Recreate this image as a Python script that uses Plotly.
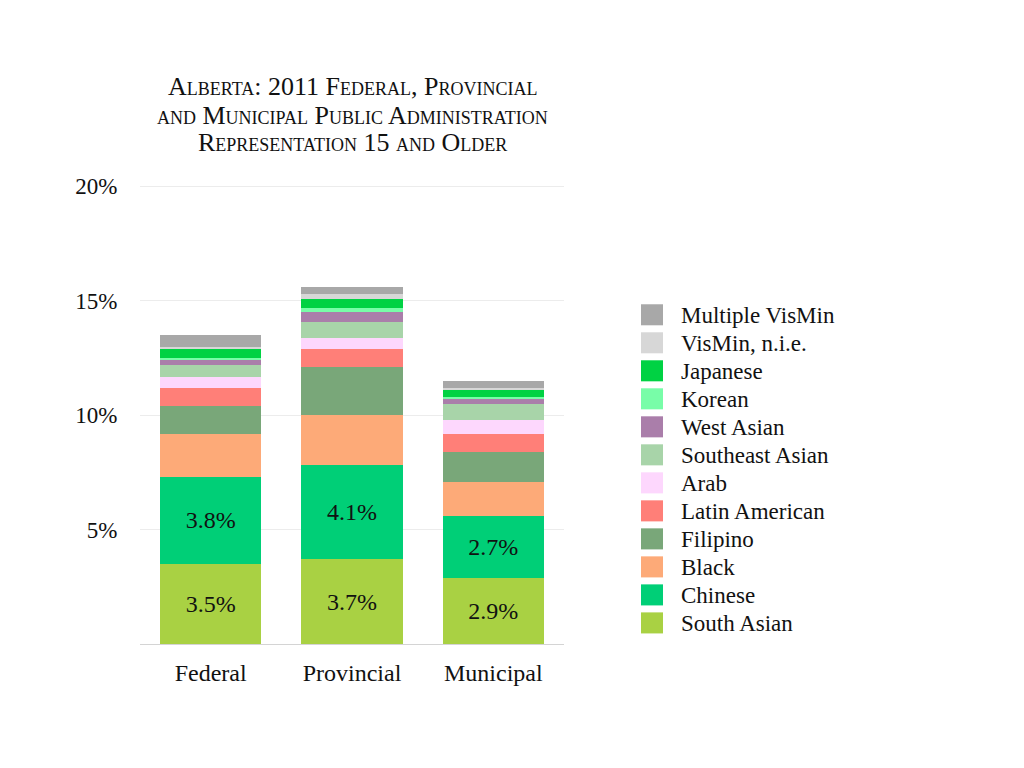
import plotly.graph_objects as go

# ---------------- data ----------------
categories = ["Federal", "Provincial", "Municipal"]

groups = ["South Asian", "Chinese", "Black", "Filipino", "Latin American", "Arab",
          "Southeast Asian", "West Asian", "Korean", "Japanese", "VisMin, n.i.e.",
          "Multiple VisMin"]

south_asian = [3.5, 3.7, 2.9]
chinese = [3.8, 4.1, 2.7]
black = [1.88, 2.20, 1.47]
filipino = [1.22, 2.10, 1.31]
latin_american = [0.79, 0.78, 0.79]
arab = [0.48, 0.48, 0.61]
southeast_asian = [0.52, 0.70, 0.70]
west_asian = [0.22, 0.44, 0.22]
korean = [0.09, 0.17, 0.09]
japanese = [0.39, 0.40, 0.30]
vismin_nie = [0.09, 0.21, 0.09]
multiple_vismin = [0.52, 0.31, 0.30]

series = [south_asian, chinese, black, filipino, latin_american, arab,
          southeast_asian, west_asian, korean, japanese, vismin_nie, multiple_vismin]

colors = ["#A9D143", "#00CF77", "#FDAA78", "#79A779", "#FF7F78", "#FDD7FD",
          "#A8D4A9", "#AA7EAA", "#78FDA8", "#00D243", "#D7D7D7", "#A8A8A8"]

labelled_groups = ["South Asian", "Chinese"]

tick_values = [5, 10, 15, 20]
tick_labels = ["5%", "10%", "15%", "20%"]

title_lines = ["Alberta: 2011 Federal, Provincial",
               "and Municipal Public Administration",
               "Representation 15 and Older"]

# ---------------- layout constants (pixels) ----------------
W, H = 1024, 768
PL, PR, PT, PB = 140, 564, 186, 644
FONT = "Liberation Serif"
INK = "#111111"


def px_x(x):
    return (x - PL) / (PR - PL)


def px_y(y):
    return (PB - y) / (PB - PT)


fig = go.Figure()
for name, vals, col in zip(groups, series, colors):
    show_text = name in labelled_groups
    fig.add_trace(go.Bar(
        x=categories, y=vals, name=name,
        marker=dict(color=col, line=dict(width=0)),
        text=[f"{v:.1f}%" for v in vals] if show_text else None,
        textposition="inside" if show_text else "none",
        insidetextanchor="middle",
        textangle=0,
        textfont=dict(family=FONT, size=24, color=INK),
        showlegend=False,
        hoverinfo="x+y+name",
    ))

# manual legend (large swatches)
shapes = []
annotations = []
leg_top_center = 315.5
leg_step = 27.95
for i, (name, col) in enumerate(zip(reversed(groups), reversed(colors))):
    cy = leg_top_center + i * leg_step
    shapes.append(dict(type="rect", xref="paper", yref="paper",
                       x0=px_x(641), x1=px_x(663),
                       y0=px_y(cy + 10.5), y1=px_y(cy - 10.5),
                       fillcolor=col, line=dict(width=0)))
    annotations.append(dict(xref="paper", yref="paper", x=px_x(679), y=px_y(cy + 1),
                            xanchor="left", yanchor="middle", showarrow=False,
                            text=name, font=dict(family=FONT, size=23, color=INK)))

# title, one annotation per line
title_centers = [88, 116.5, 144]
for line, cy in zip(title_lines, title_centers):
    annotations.append(dict(xref="paper", yref="paper", x=0.5, y=px_y(cy),
                            xanchor="center", yanchor="middle", showarrow=False,
                            text=line,
                            font=dict(family=FONT, size=26, color=INK, variant="small-caps")))

fig.update_layout(
    width=W, height=H,
    margin=dict(l=PL, r=W - PR, t=PT - 1, b=H - PB, pad=0),
    barmode="stack",
    bargap=0.285,
    paper_bgcolor="white",
    plot_bgcolor="white",
    font=dict(family=FONT, size=22, color=INK),
    shapes=shapes,
    annotations=annotations,
    showlegend=False,
    xaxis=dict(
        showgrid=False, showline=False, zeroline=False,
        ticks="outside", ticklen=7, tickcolor="rgba(0,0,0,0)",
        tickfont=dict(family=FONT, size=24, color=INK),
    ),
    yaxis=dict(
        range=[0, 20.044],
        tickvals=tick_values, ticktext=tick_labels,
        showgrid=True, gridcolor="#ececec", gridwidth=1,
        zeroline=True, zerolinecolor="#d4d4d4", zerolinewidth=1,
        showline=False,
        ticks="outside", ticklen=17, tickcolor="rgba(0,0,0,0)",
        tickfont=dict(family=FONT, size=23, color=INK),
    ),
)

fig.write_html("out.html", config={"displayModeBar": False},
               post_script="document.body.style.margin='0';")
